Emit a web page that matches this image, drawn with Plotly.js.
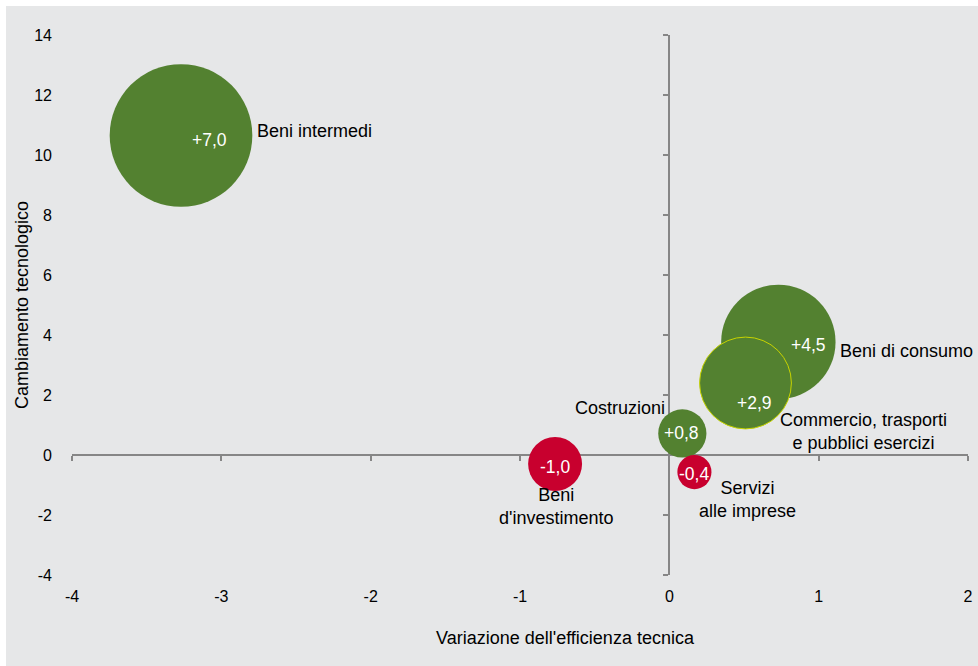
<!DOCTYPE html>
<html>
<head>
<meta charset="utf-8">
<script src="https://cdn.plot.ly/plotly-3.0.1.min.js"></script>
<style>
  html, body { margin: 0; padding: 0; background: #ffffff; }
  #chart { position: absolute; left: 6px; top: 6px; width: 972px; height: 660px; }
</style>
</head>
<body>
<div id="chart"></div>
<script>
// Data
var categories = ["Beni intermedi", "Beni di consumo", "Commercio, trasporti<br>e pubblici esercizi", "Costruzioni", "Beni<br>d'investimento", "Servizi<br>alle imprese"];
var efficiency = [-3.27, 0.73, 0.51, 0.087, -0.765, 0.168];   // x: Variazione dell'efficienza tecnica
var techChange = [10.65, 3.77, 2.4, 0.72, -0.3, -0.57];       // y: Cambiamento tecnologico
var values = [7.0, 4.5, 2.9, 0.8, -1.0, -0.4];                // bubble values
var valueLabels = ["+7,0", "+4,5", "+2,9", "+0,8", "-1,0", "-0,4"];
var xTicks = [-4, -3, -2, -1, 0, 1, 2];
var yTicks = [-4, -2, 0, 2, 4, 6, 8, 10, 12, 14];

// Styling
var GREEN = "#538130", RED = "#c8002e", AXIS = "#868686";
var FONT = "Liberation Sans, Arial, Helvetica, sans-serif";
var valueShift = [[28.5, -4.5], [30, -3], [9, -20], [-1, 0], [0, -3], [0, -2]];
var catStyle = [
  {xanchor: "left", xs: 73.5, ys: 4.5},
  {xanchor: "left", xs: 60, ys: -9},
  {xanchor: "center", xs: 118, ys: -48},
  {xanchor: "right", xs: -15, ys: 25.5},
  {xanchor: "center", xs: 1, ys: -42},
  {xanchor: "center", xs: 53, ys: -27}
];
var outlineColors = values.map(function (v, i) { return i === 2 ? "#c8d400" : "rgba(0,0,0,0)"; });
var outlineWidths = values.map(function (v, i) { return i === 2 ? 1 : 0; });

var bubbles = {
  type: "scatter",
  mode: "markers",
  x: efficiency,
  y: techChange,
  text: categories,
  hoverinfo: "text",
  marker: {
    size: values.map(Math.abs),
    sizemode: "area",
    sizeref: 0.000688,
    color: values.map(function (v) { return v > 0 ? GREEN : RED; }),
    opacity: 1,
    line: { color: outlineColors, width: outlineWidths }
  },
  cliponaxis: false,
  showlegend: false
};

var axisHelper = {
  type: "scatter", mode: "markers", x: [], y: [],
  xaxis: "x2", yaxis: "y2", hoverinfo: "skip", showlegend: false
};

var annotations = [];
for (var i = 0; i < categories.length; i++) {
  annotations.push({
    x: efficiency[i], y: techChange[i], xref: "x", yref: "y",
    text: valueLabels[i], showarrow: false,
    xanchor: "center", yanchor: "middle",
    xshift: valueShift[i][0], yshift: valueShift[i][1],
    font: { family: FONT, size: 17.5, color: "#ffffff" }
  });
  annotations.push({
    x: efficiency[i], y: techChange[i], xref: "x", yref: "y",
    text: categories[i], showarrow: false,
    xanchor: catStyle[i].xanchor, yanchor: "middle", align: "center",
    xshift: catStyle[i].xs, yshift: catStyle[i].ys,
    font: { family: FONT, size: 18, color: "#000000" }
  });
}
annotations.push({
  xref: "paper", yref: "paper", x: 0.551, y: 0, yanchor: "middle", yshift: -63,
  text: "Variazione dell'efficienza tecnica", showarrow: false,
  font: { family: FONT, size: 18, color: "#000000" }
});
annotations.push({
  xref: "paper", yref: "paper", x: 0, y: 0.5, xanchor: "center", yanchor: "middle", xshift: -50,
  textangle: -90, text: "Cambiamento tecnologico", showarrow: false,
  font: { family: FONT, size: 18, color: "#000000" }
});

var layout = {
  width: 972, height: 660,
  margin: { l: 66, r: 10, t: 29, b: 91 },
  paper_bgcolor: "#e6e7e8",
  plot_bgcolor: "rgba(0,0,0,0)",
  font: { family: FONT, size: 16, color: "#000000" },
  xaxis: {
    range: [-4, 2], tickvals: xTicks, ticktext: xTicks.map(String),
    showgrid: false, zeroline: false, showline: false, ticks: "",
    ticklabelstandoff: 10, fixedrange: true,
    tickfont: { family: FONT, size: 16, color: "#000000" }
  },
  yaxis: {
    range: [-4, 14], tickvals: yTicks, ticktext: yTicks.map(String),
    showgrid: false, zeroline: false, showline: false, ticks: "",
    ticklabelstandoff: 19, fixedrange: true,
    tickfont: { family: FONT, size: 16, color: "#000000" }
  },
  xaxis2: {
    overlaying: "x", anchor: "free", position: 4 / 18, side: "bottom",
    range: [-4, 2], tickvals: xTicks, showticklabels: false,
    showgrid: false, zeroline: false, showline: true, linecolor: AXIS, linewidth: 2,
    ticks: "outside", ticklen: 5, tickwidth: 2, tickcolor: AXIS, layer: "below traces", fixedrange: true
  },
  yaxis2: {
    overlaying: "y", anchor: "free", position: 4 / 6, side: "left",
    range: [-4, 14], tickvals: yTicks, showticklabels: false,
    showgrid: false, zeroline: false, showline: true, linecolor: AXIS, linewidth: 2,
    ticks: "outside", ticklen: 5, tickwidth: 2, tickcolor: AXIS, layer: "below traces", fixedrange: true
  },
  annotations: annotations,
  showlegend: false
};

Plotly.newPlot("chart", [axisHelper, bubbles], layout, { displayModeBar: false, staticPlot: true });
</script>
</body>
</html>
